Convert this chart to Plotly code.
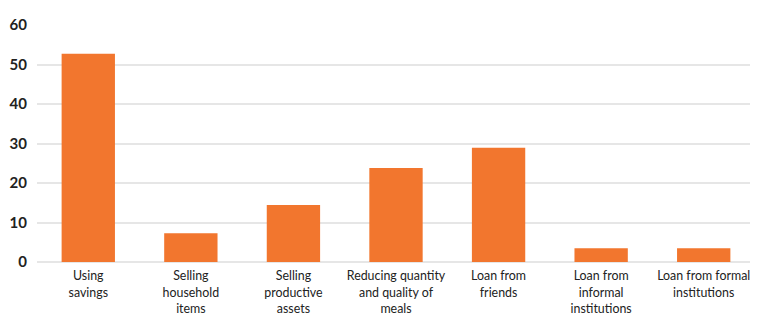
import plotly.graph_objects as go

categories = [
    "Using<br>savings",
    "Selling<br>household<br>items",
    "Selling<br>productive<br>assets",
    "Reducing quantity<br>and quality of<br>meals",
    "Loan from<br>friends",
    "Loan from<br>informal<br>institutions",
    "Loan from formal<br>institutions",
]
values = [52.7, 7.3, 14.4, 23.8, 28.9, 3.5, 3.5]
y_ticks = [0, 10, 20, 30, 40, 50, 60]

fig = go.Figure(
    go.Bar(x=categories, y=values, marker=dict(color="#F2762E", line=dict(width=0)))
)

# page body has an 8px default margin, so the figure is drawn 8px in from the corner
fig.update_layout(
    width=750,
    height=310,
    margin=dict(l=29, r=3, t=17, b=56, autoexpand=False),
    plot_bgcolor="white",
    paper_bgcolor="white",
    bargap=0.48,
    showlegend=False,
    font=dict(family="Lato", color="#222222"),
)
fig.update_xaxes(
    tickfont=dict(family="Lato", size=12.4, color="#222222"),
    showline=False,
    showgrid=False,
    ticks="",
    automargin=False,
    ticklabelstandoff=5,
)
fig.update_yaxes(
    range=[0, 60],
    tickvals=y_ticks,
    tickfont=dict(family="Lato", size=15, color="#222222", weight="bold"),
    showgrid=True,
    gridcolor="#e6e6e6",
    gridwidth=1.5,
    zeroline=True,
    zerolinecolor="#e6e6e6",
    zerolinewidth=1.5,
    ticks="",
    ticklabelstandoff=9,
    automargin=False,
)

fig.write_html("out.html")
